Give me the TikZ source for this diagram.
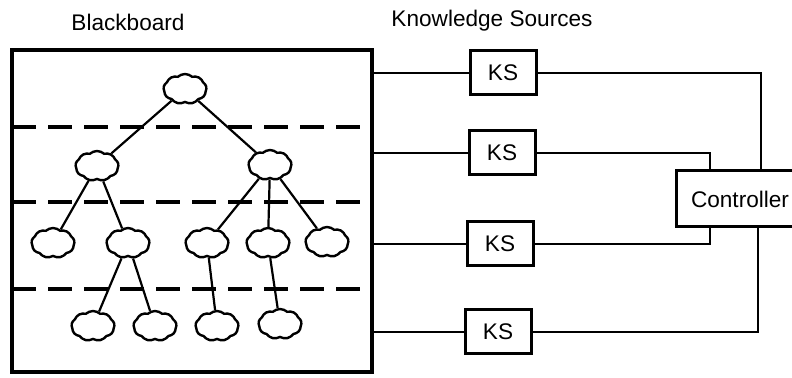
\documentclass[tikz,border=0pt]{standalone}
\usepackage{fontspec}
\setmainfont{Liberation Sans}
\usetikzlibrary{shapes.symbols}

\begin{document}
\begin{tikzpicture}[x=0.5pt,y=-0.5pt,
    blob/.style={cloud,cloud puffs=9,cloud puff arc=85,aspect=1.4,draw,fill=white,line width=1.2pt,inner sep=0pt,minimum width=21.5pt,minimum height=15pt},
    ksbox/.style={draw,line width=1.5pt,minimum width=33pt,minimum height=22pt,inner sep=0pt},
    wire/.style={line width=1.3pt},
    link/.style={line width=1.1pt},
    level/.style={line width=1.6pt,dash pattern=on 12pt off 6pt},
    font=\fontsize{11.3}{13}\selectfont]
    \useasboundingbox (0,0) rectangle (792,378);
    \node[anchor=base] (bbtitle) at (128,31) {Blackboard};
    \node[anchor=base] (kstitle) at (492,27) {Knowledge Sources};
    \node[draw,line width=1.7pt,minimum width=180pt,minimum height=161pt] (bb) at (192,211) {};
    \draw[level] (12,127) -- (372,127);
    \draw[level] (12,202) -- (372,202);
    \draw[level] (12,289) -- (372,289);
    \node[blob] (n0) at (185,89) {};
    \node[blob] (n1) at (97,166) {};
    \node[blob] (n2) at (270,165) {};
    \node[blob] (n3) at (53,243) {};
    \node[blob] (n4) at (128,243) {};
    \node[blob] (n5) at (207,243) {};
    \node[blob] (n6) at (268,243) {};
    \node[blob] (n7) at (327,242) {};
    \node[blob] (n8) at (93,326) {};
    \node[blob] (n9) at (155,326) {};
    \node[blob] (n10) at (217,326) {};
    \node[blob] (n11) at (280,324) {};
    \draw[link] (n0) -- (n1);
    \draw[link] (n0) -- (n2);
    \draw[link] (n1) -- (n3);
    \draw[link] (n1) -- (n4);
    \draw[link] (n2) -- (n5);
    \draw[link] (n2) -- (n6);
    \draw[link] (n2) -- (n7);
    \draw[link] (n4) -- (n8);
    \draw[link] (n4) -- (n9);
    \draw[link] (n5) -- (n10);
    \draw[link] (n6) -- (n11);
    \node[ksbox] (ks1) at (503,73) {KS};
    \node[ksbox] (ks2) at (502,153) {KS};
    \node[ksbox] (ks3) at (500,244) {KS};
    \node[ksbox] (ks4) at (498,332) {KS};
    \node[ksbox,minimum width=64pt,minimum height=28pt] (ctrl) at (740,199) {Controller};
    \draw[wire] (bb.east |- ks1) -- (ks1);
    \draw[wire] (bb.east |- ks2) -- (ks2);
    \draw[wire] (bb.east |- ks3) -- (ks3);
    \draw[wire] (bb.east |- ks4) -- (ks4);
    \draw[wire] (ks1) -| ([xshift=10.5pt]ctrl.north);
    \draw[wire] (ks2) -| ([xshift=-15pt]ctrl.north);
    \draw[wire] (ks3) -| ([xshift=-15pt]ctrl.south);
    \draw[wire] (ks4) -| ([xshift=9pt]ctrl.south);
\end{tikzpicture}
\end{document}
